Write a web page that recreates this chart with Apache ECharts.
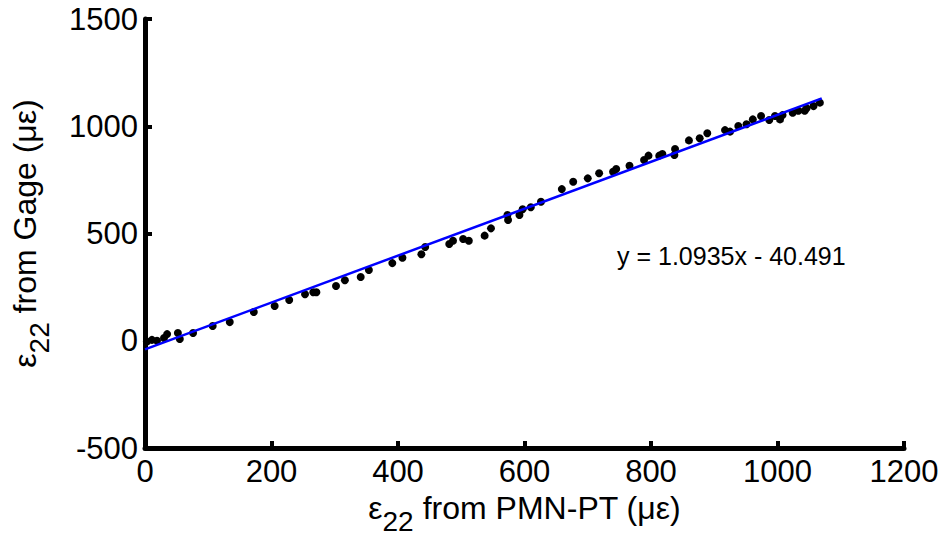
<!DOCTYPE html>
<html>
<head>
<meta charset="utf-8">
<script src="https://cdn.jsdelivr.net/npm/echarts@6/dist/echarts.min.js"></script>
<style>
html,body{margin:0;padding:0;background:#fff;}
#chart{width:946px;height:537px;}
</style>
</head>
<body>
<div id="chart"></div>
<script>
// measured points: strain from PMN-PT (x) vs strain from gage (y), microstrain
var pmnX = [3, 11, 19, 30, 35, 52, 55, 76, 107, 134, 172, 205, 228,
  253, 266, 271, 302, 316, 341, 354, 391, 407, 437, 443, 481, 487, 503, 512,
  537, 547, 573, 574, 592, 597, 610, 626, 659, 677, 700, 718, 740, 745, 766,
  789, 796, 813, 818, 837, 838, 860, 877, 889, 917, 925, 938, 951, 961, 974,
  987, 996, 1004, 1008, 1024, 1033, 1043, 1046, 1057, 1067];
var gageY = [-4, 4, 0, 13, 31, 36, 8, 36, 69, 87, 134, 162, 190,
  217, 226, 226, 255, 282, 297, 330, 362, 387, 403, 437, 451, 466, 474, 466,
  490, 524, 586, 563, 586, 613, 622, 648, 707, 741, 757, 781, 788, 801, 816,
  843, 863, 863, 871, 866, 894, 934, 944, 967, 982, 975, 1001, 1009, 1032, 1048,
  1029, 1048, 1032, 1052, 1063, 1072, 1072, 1084, 1094, 1110];
// linear fit line end points (y = 1.0935x - 40.491)
var fitX = [0, 1070];
var fitY = [-40.491, 1129.6];
var fitLabel = 'y = 1.0935x - 40.491';
var xTicks = [0, 200, 400, 600, 800, 1000, 1200];
var yTicks = [-500, 0, 500, 1000, 1500];

var FONT = '"Liberation Sans", Arial, sans-serif';
var pts = pmnX.map(function (x, i) { return [x, gageY[i]]; });
var fit = fitX.map(function (x, i) { return [x, fitY[i]]; });
var plain = function (v) { return String(v); };

var chart = echarts.init(document.getElementById('chart'), null, {renderer: 'svg'});
var titleRich = {
  a: {fontSize: 32, fontFamily: FONT, color: '#000', lineHeight: 56},
  s: {fontSize: 28, fontFamily: FONT, color: '#000', lineHeight: 14, verticalAlign: 'bottom'}
};
chart.setOption({
  animation: false,
  backgroundColor: '#fff',
  grid: {left: 145, right: 42, top: 19, bottom: 89, containLabel: false, outerBoundsMode: 'none'},
  xAxis: {
    type: 'value', min: xTicks[0], max: xTicks[xTicks.length - 1], interval: 200,
    axisLine: {onZero: false, lineStyle: {color: '#000', width: 5}},
    axisTick: {inside: true, length: 7, lineStyle: {color: '#000', width: 4}},
    splitLine: {show: false},
    axisLabel: {fontSize: 31, fontFamily: FONT, color: '#000', margin: 8, formatter: plain},
    name: '{a|ε}{s|22}{a| from PMN-PT (με)}',
    nameLocation: 'middle', nameGap: 27,
    nameTextStyle: {rich: titleRich}
  },
  yAxis: {
    type: 'value', min: yTicks[0], max: yTicks[yTicks.length - 1], interval: 500,
    axisLine: {onZero: false, lineStyle: {color: '#000', width: 5}},
    axisTick: {inside: true, length: 7, lineStyle: {color: '#000', width: 4}},
    splitLine: {show: false},
    axisLabel: {fontSize: 31, fontFamily: FONT, color: '#000', margin: 7, formatter: plain},
    name: '{a|ε}{s|22}{a| from Gage (με)}',
    nameLocation: 'middle', nameGap: 92, nameRotate: 90,
    nameTextStyle: {rich: titleRich}
  },
  series: [
    {
      type: 'scatter', data: pts, symbol: 'circle', symbolSize: 8,
      itemStyle: {color: '#000', opacity: 1}, z: 3
    },
    {
      type: 'line', data: fit, showSymbol: false, symbol: 'none',
      lineStyle: {color: '#0000ff', width: 2.5}, z: 4
    }
  ],
  graphic: [{
    type: 'text', left: 617, top: 243,
    style: {text: fitLabel, fontSize: 25, fontFamily: FONT, fill: '#000'}
  }]
});
</script>
</body>
</html>
